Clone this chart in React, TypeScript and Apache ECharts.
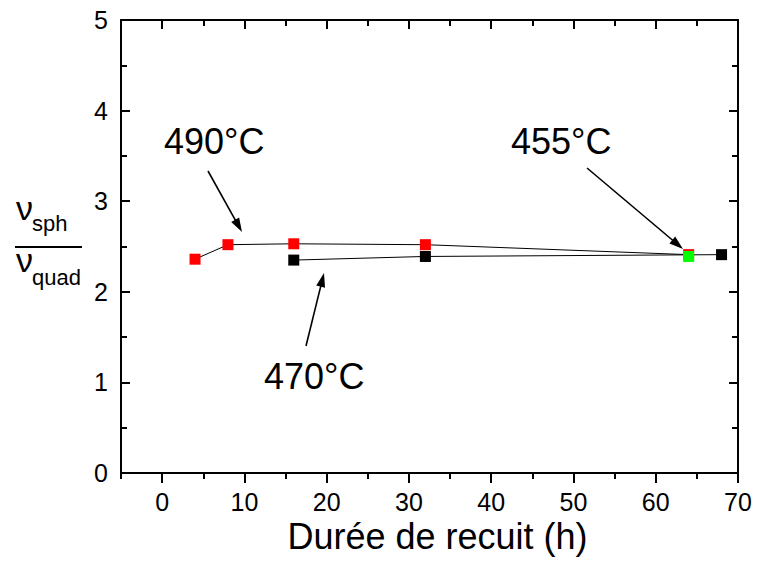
import React, { useEffect, useRef } from "react";
import * as echarts from "echarts";

const durations490 = [4, 8, 16, 32, 64];
const ratio490 = [2.36, 2.52, 2.53, 2.52, 2.41];
const durations470 = [16, 32, 68];
const ratio470 = [2.35, 2.39, 2.41];
const durations455 = [64];
const ratio455 = [2.39];
const xMajorTicks = [0, 10, 20, 30, 40, 50, 60, 70];

const FONT = "Liberation Sans, Arial, sans-serif";

function arrow(x1: number, y1: number, x2: number, y2: number) {
  const dx = x2 - x1;
  const dy = y2 - y1;
  const len = Math.sqrt(dx * dx + dy * dy);
  const ux = dx / len;
  const uy = dy / len;
  const hl = 14;
  const hw = 4.5;
  const bx = x2 - ux * hl;
  const by = y2 - uy * hl;
  return [
    {
      type: "line",
      shape: { x1, y1, x2: bx + ux * 2, y2: by + uy * 2 },
      style: { stroke: "#000", lineWidth: 1.6 },
    },
    {
      type: "polygon",
      shape: {
        points: [
          [x2, y2],
          [bx - uy * hw, by + ux * hw],
          [bx + uy * hw, by - ux * hw],
        ],
      },
      style: { fill: "#000" },
    },
  ];
}

export default function App() {
  const ref = useRef<HTMLDivElement>(null);
  useEffect(() => {
    if (!ref.current) return;
    const chart = echarts.init(ref.current, null, { renderer: "svg" });
    const axisLine = { show: true, onZero: false, lineStyle: { color: "#000", width: 2 } };
    const noLine = { show: false, onZero: false };
    const tickStyle = { color: "#000", width: 2 };
    const pair = (xs: number[], ys: number[]) => xs.map((x, i) => [x, ys[i]]);
    const xBase = { type: "value", min: -5, max: 70, interval: 5, splitLine: { show: false } };
    chart.setOption({
      animation: false,
      backgroundColor: "#fff",
      grid: { left: 121, right: 20, top: 20, bottom: 89, containLabel: false },
      xAxis: [
        {
          ...xBase,
          position: "bottom",
          name: "Durée de recuit (h)",
          nameLocation: "middle",
          nameGap: 40,
          nameTextStyle: { fontFamily: FONT, fontSize: 36, color: "#000", padding: [0, 0, 0, 16] },
          axisLine,
          axisTick: { show: true, inside: false, length: 10, lineStyle: tickStyle, customValues: xMajorTicks },
          axisLabel: {
            fontFamily: FONT,
            fontSize: 25,
            color: "#000",
            margin: 16,
            customValues: xMajorTicks,
          },
        },
        {
          ...xBase,
          position: "bottom",
          axisLine: noLine,
          axisTick: { show: true, inside: false, length: 6, lineStyle: tickStyle },
          axisLabel: { show: false },
        },
        {
          ...xBase,
          position: "top",
          axisLine,
          axisTick: { show: true, inside: true, length: 9, lineStyle: tickStyle, customValues: xMajorTicks },
          axisLabel: { show: false },
        },
        {
          ...xBase,
          position: "top",
          axisLine: noLine,
          axisTick: { show: true, inside: true, length: 6, lineStyle: tickStyle },
          axisLabel: { show: false },
        },
      ],
      yAxis: [
        {
          type: "value",
          position: "left",
          min: 0,
          max: 5,
          interval: 1,
          axisLine,
          axisTick: { show: true, inside: true, length: 9, lineStyle: tickStyle },
          minorTick: { show: true, splitNumber: 2, length: 6, lineStyle: tickStyle },
          axisLabel: { fontFamily: FONT, fontSize: 25, color: "#000", margin: 13 },
          splitLine: { show: false },
        },
        {
          type: "value",
          position: "right",
          min: 0,
          max: 5,
          interval: 1,
          axisLine,
          axisTick: { show: true, inside: true, length: 9, lineStyle: tickStyle },
          minorTick: { show: true, splitNumber: 2, length: 6, lineStyle: tickStyle },
          axisLabel: { show: false },
          splitLine: { show: false },
        },
      ],
      series: [
        {
          name: "470°C",
          type: "line",
          data: pair(durations470, ratio470),
          symbol: "rect",
          symbolSize: 11,
          lineStyle: { color: "#000", width: 1 },
          itemStyle: { color: "#000" },
          z: 2,
        },
        {
          name: "490°C",
          type: "line",
          data: pair(durations490, ratio490),
          symbol: "rect",
          symbolSize: 11,
          lineStyle: { color: "#000", width: 1 },
          itemStyle: { color: "#ff0000" },
          z: 3,
        },
        {
          name: "455°C",
          type: "scatter",
          data: pair(durations455, ratio455),
          symbol: "rect",
          symbolSize: 11,
          itemStyle: { color: "#00ff00", opacity: 1 },
          z: 4,
        },
      ],
      graphic: [
        { type: "text", x: 164, y: 141, style: { text: "490°C", font: `36px ${FONT}`, fill: "#000", verticalAlign: "middle" } },
        { type: "text", x: 511, y: 141, style: { text: "455°C", font: `36px ${FONT}`, fill: "#000", verticalAlign: "middle" } },
        { type: "text", x: 264, y: 376, style: { text: "470°C", font: `36px ${FONT}`, fill: "#000", verticalAlign: "middle" } },
        ...arrow(208, 171, 242, 232),
        ...arrow(587, 168, 683, 249),
        ...arrow(306, 346, 324, 273),
        { type: "text", x: 16, y: 208, style: { text: "ν", font: `34px ${FONT}`, fill: "#000", verticalAlign: "middle" } },
        { type: "text", x: 32, y: 223, style: { text: "sph", font: `22px ${FONT}`, fill: "#000", verticalAlign: "middle" } },
        { type: "line", shape: { x1: 15, y1: 247, x2: 82, y2: 247 }, style: { stroke: "#000", lineWidth: 2 } },
        { type: "text", x: 16, y: 260, style: { text: "ν", font: `34px ${FONT}`, fill: "#000", verticalAlign: "middle" } },
        { type: "text", x: 32, y: 277, style: { text: "quad", font: `22px ${FONT}`, fill: "#000", verticalAlign: "middle" } },
      ],
    });
    return () => chart.dispose();
  }, []);
  return (
    <div
      ref={ref}
      style={{ position: "fixed", left: 0, top: 0, width: 758, height: 562, background: "#fff" }}
    />
  );
}
